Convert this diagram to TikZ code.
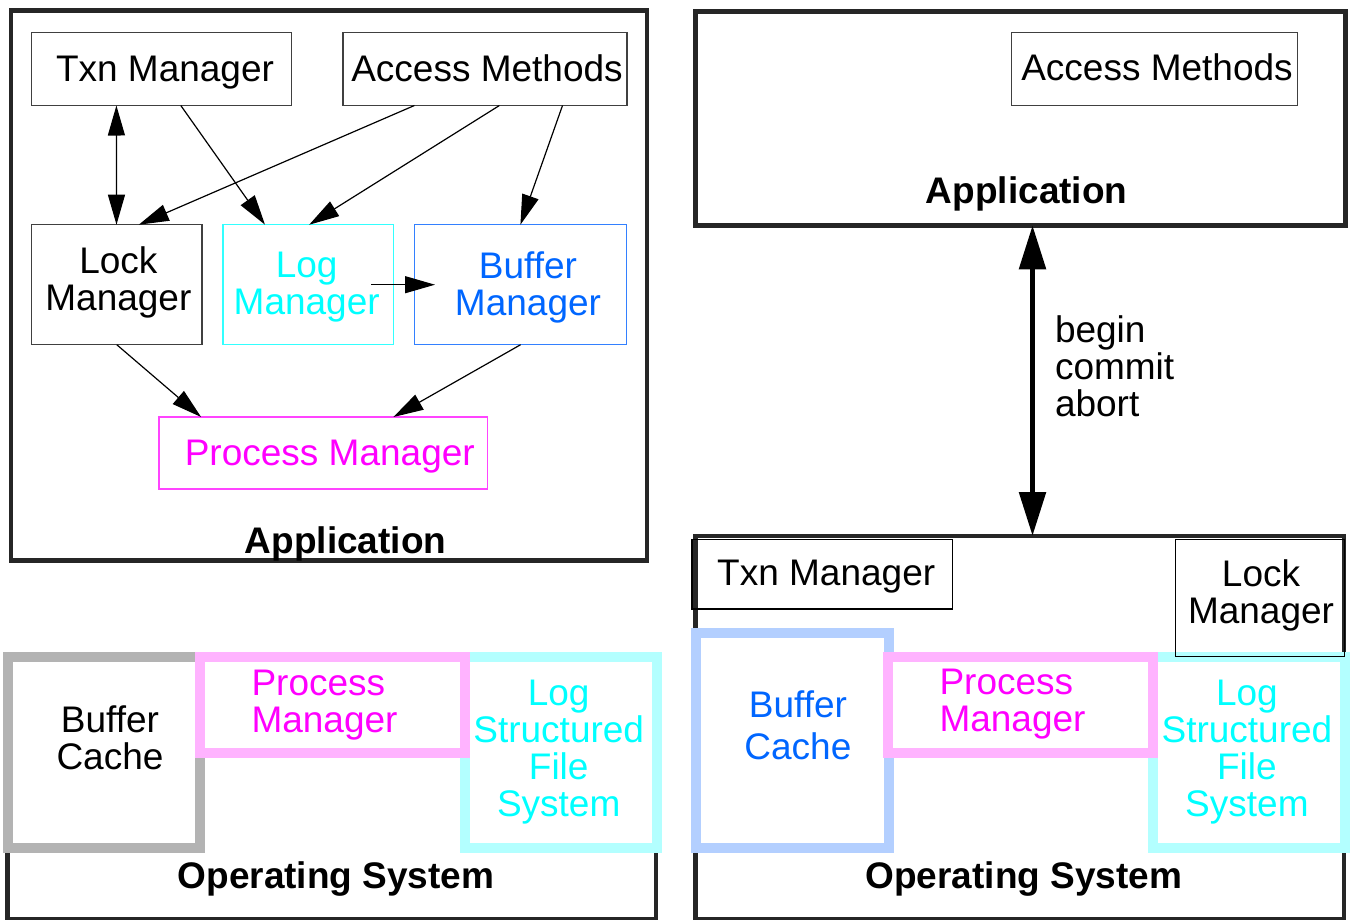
\documentclass[tikz,border=0pt]{standalone}
\usepackage{fontspec}
\setmainfont{Liberation Sans}
\usetikzlibrary{arrows.meta}

\definecolor{lgray}{HTML}{B3B3B3}
\definecolor{lpink}{HTML}{FFB3FF}
\definecolor{lcyan}{HTML}{B3FFFF}
\definecolor{lblue}{HTML}{B3CFFF}
\definecolor{tcyan}{HTML}{00FFFF}
\definecolor{tmag}{HTML}{FF00FF}
\definecolor{tblue}{HTML}{0066FF}
\definecolor{cyanline}{HTML}{33FFFF}
\definecolor{blueline}{HTML}{3380FF}
\definecolor{magline}{HTML}{FF44FF}

\tikzset{
  txt/.style={font=\fontsize{37bp}{37bp}\selectfont, inner sep=0pt, outer sep=0pt},
  boldtxt/.style={txt, font=\fontsize{37bp}{37bp}\selectfont\bfseries},
  frame/.style={draw=black!85, line width=4.5bp, rectangle, inner sep=0pt, outer sep=0pt},
  thinbox/.style={draw=black!75, line width=1.3bp, rectangle, inner sep=0pt, outer sep=0pt},
  fatbox/.style={line width=10bp, fill=white, rectangle, inner sep=0pt, outer sep=0pt},
  tip/.style={Triangle[length=30bp,width=17bp]},
  link/.style={line width=1.2bp, -{Triangle[length=30bp,width=17bp]}},
  duallink/.style={line width=1.2bp, {Triangle[length=30bp,width=17bp]}-{Triangle[length=30bp,width=17bp]}},
  biglink/.style={line width=5.5bp, {Triangle[length=44bp,width=26bp]}-{Triangle[length=44bp,width=26bp]}},
}

\begin{document}
\begin{tikzpicture}[x=1bp, y=-1bp]
\useasboundingbox (0,0) rectangle (1351,919);

% ---------- upper left: everything inside the application ----------
\node[frame, minimum width=636bp, minimum height=550bp] (appL) at (329,285.5) {};
\node[thinbox, minimum width=260bp, minimum height=72.8bp] (txnL) at (161.5,69.1) {};
\node[thinbox, minimum width=284bp, minimum height=72.8bp] (accL) at (484.9,69.1) {};
\node[thinbox, minimum width=170.3bp, minimum height=120bp] (lockL) at (116.75,284.7) {};
\node[thinbox, draw=cyanline, minimum width=170.4bp, minimum height=120bp] (logL) at (308.2,284.7) {};
\node[thinbox, draw=blueline, minimum width=212.4bp, minimum height=120bp] (bufL) at (520.6,284.7) {};
\node[thinbox, draw=magline, minimum width=328.2bp, minimum height=72bp] (procL) at (323.1,453) {};

\node[txt, anchor=base] (txnLt) at (165,81) {Txn Manager};
\node[txt, anchor=base] (accLt) at (487,81) {Access Methods};
\node[txt, align=center] (lockLt) at (118.4,282.5) {Lock\\Manager};
\node[txt, align=center, text=tcyan] (logLt) at (306.7,287) {Log\\Manager};
\node[txt, align=center, text=tblue] (bufLt) at (528,287) {Buffer\\Manager};
\node[txt, anchor=base, text=tmag] (procLt) at (329.8,465.5) {Process Manager};
\node[boldtxt, anchor=base] (appLt) at (345.6,553) {Application};

\draw[duallink] ([xshift=84.9bp]txnL.south west) -- ([xshift=84.9bp]lockL.north west);
\draw[link] ([xshift=149.3bp]txnL.south west) -- ([xshift=42bp]logL.north west);
\draw[link] ([xshift=71.5bp]accL.south west) -- ([xshift=107.2bp]lockL.north west);
\draw[link] ([xshift=156.5bp]accL.south west) -- ([xshift=86.2bp]logL.north west);
\draw[link] ([xshift=219.6bp]accL.south west) -- ([xshift=106bp]bufL.north west);
\draw[link] ([xshift=62.8bp]logL.center) -- ([xshift=20.6bp]bufL.west);
\draw[link] (lockL.south) -- ([xshift=42.1bp]procL.north west);
\draw[link] (bufL.south) -- ([xshift=234.4bp]procL.north west);

% ---------- upper right: the slim application ----------
\node[frame, minimum width=650bp, minimum height=214bp] (appR) at (1020.5,118.3) {};
\node[thinbox, minimum width=286bp, minimum height=72.8bp] (accR) at (1154.5,69.2) {};
\node[txt, anchor=base] (accRt) at (1157,80.9) {Access Methods};
\node[boldtxt, anchor=base] (appRt) at (1026.7,203) {Application};

% ---------- lower right: operating system with transaction support ----------
\node[frame, minimum width=648.5bp, minimum height=383.5bp] (osR) at (1019.75,727.75) {};
\node[fatbox, draw=lblue, minimum width=192.9bp, minimum height=215.3bp] (bcR) at (792.2,740.7) {};
\node[fatbox, draw=lcyan, minimum width=192bp, minimum height=191.6bp] (lfsR) at (1249,752.5) {};
\node[fatbox, draw=lpink, minimum width=264.8bp, minimum height=96.6bp] (pmR) at (1020.4,705) {};
\node[thinbox, draw=black, minimum width=260.7bp, minimum height=69.7bp] (txnR) at (822.4,574.2) {};
\node[thinbox, draw=black, minimum width=169.4bp, minimum height=117.4bp] (lockR) at (1260,598) {};

\node[txt, anchor=base] (txnRt) at (826.2,585) {Txn Manager};
\node[txt, align=center] (lockRt) at (1261,595.5) {Lock\\Manager};
\node[txt, align=center, text=tblue] (bcRt) at (797.9,725) {Buffer\\[5bp]Cache};
\node[txt, align=left, anchor=west, text=tmag] (pmRt) at (939.5,704.5) {Process\\Manager};
\node[txt, align=center, text=tcyan] (lfsRt) at (1246.9,752) {Log\\Structured\\File\\System};
\node[boldtxt, anchor=base] (osRt) at (1023.9,888) {Operating System};

\draw[biglink] ([xshift=12bp]appR.south) -- ([xshift=12.75bp]osR.north);
\node[txt, align=left, anchor=west] (calls) at (1055,366.5) {begin\\commit\\abort};

% ---------- lower left: conventional operating system ----------
\node[frame, minimum width=648.5bp, minimum height=219.5bp] (osL) at (331.75,809.75) {};
\node[fatbox, draw=lgray, minimum width=192bp, minimum height=191.3bp] (bcL) at (104.1,752.35) {};
\node[fatbox, draw=lcyan, minimum width=191.4bp, minimum height=191.3bp] (lfsL) at (560.8,752.35) {};
\node[fatbox, draw=lpink, minimum width=265bp, minimum height=95.8bp] (pmL) at (332.6,704.6) {};

\node[txt, align=center] (bcLt) at (110,738) {Buffer\\Cache};
\node[txt, align=left, anchor=west, text=tmag] (pmLt) at (251.5,705) {Process\\Manager};
\node[txt, align=center, text=tcyan] (lfsLt) at (558.7,752) {Log\\Structured\\File\\System};
\node[boldtxt, anchor=base] (osLt) at (336,888) {Operating System};
\end{tikzpicture}
\end{document}
